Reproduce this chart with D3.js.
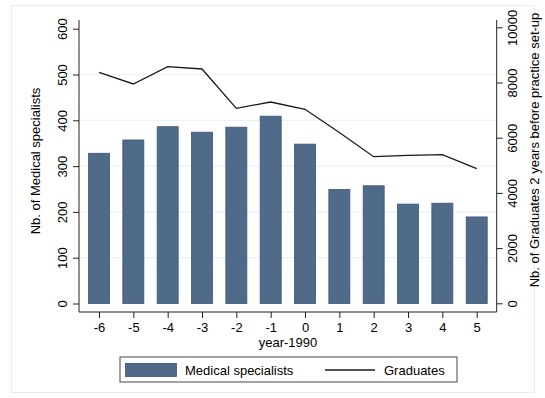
<!DOCTYPE html>
<html>
<head>
<meta charset="utf-8">
<script src="https://cdn.jsdelivr.net/npm/d3@7"></script>
<style>
  html, body { margin: 0; padding: 0; background: #fff; }
  svg { display: block; font-family: "Liberation Sans", Arial, sans-serif; }
</style>
</head>
<body>
<svg id="chart" width="545" height="398"></svg>
<script>
const years = [-6, -5, -4, -3, -2, -1, 0, 1, 2, 3, 4, 5];
const specialists = [328, 357, 386, 374, 385, 409, 348, 249, 257, 217, 219, 189];
const graduates = [8370, 7946, 8572, 8489, 7065, 7293, 7029, 6188, 5312, 5362, 5384, 4877];
const leftTicks = [0, 100, 200, 300, 400, 500, 600];
const rightTicks = [0, 2000, 4000, 6000, 8000, 10000];

const svg = d3.select("#chart");
const frame = { left: 79, right: 496.7, top: 20, bottom: 312 };

svg.append("rect").attr("x", 11.5).attr("y", 5.5).attr("width", 523).attr("height", 387)
  .attr("fill", "#fff").attr("stroke", "#ececec");

const x = d3.scalePoint().domain(years).range([99, 476.7]);
const yL = d3.scaleLinear().domain([0, 600]).range([303.5, 28.7]);
const yR = d3.scaleLinear().domain([0, 10000]).range([303.3, 27.3]);

// gridlines
svg.append("g").selectAll("line").data(leftTicks.filter(d => d > 0 && d < 600)).join("line")
  .attr("x1", frame.left).attr("x2", frame.right)
  .attr("y1", d => yL(d)).attr("y2", d => yL(d))
  .attr("stroke", "#eaf2f3").attr("stroke-width", 1.2);

// bars
const bw = 21;
svg.append("g").selectAll("rect").data(years).join("rect")
  .attr("x", (d) => x(d) - bw / 2)
  .attr("width", bw)
  .attr("y", (d, i) => yL(specialists[i]))
  .attr("height", (d, i) => yL(0) - yL(specialists[i]))
  .attr("fill", "#506a8a").attr("stroke", "#3a5679").attr("stroke-width", 0.8);

// line
const line = d3.line().x((d, i) => x(years[i])).y(d => yR(d));
svg.append("path").datum(graduates).attr("d", line)
  .attr("fill", "none").attr("stroke", "#1a1a1a").attr("stroke-width", 1.3);

// axis lines
const ax = svg.append("g").attr("stroke", "#222").attr("stroke-width", 1);
ax.append("line").attr("x1", frame.left).attr("x2", frame.left).attr("y1", frame.top).attr("y2", frame.bottom);
ax.append("line").attr("x1", frame.right).attr("x2", frame.right).attr("y1", frame.top).attr("y2", frame.bottom);
ax.append("line").attr("x1", frame.left).attr("x2", frame.right).attr("y1", frame.bottom).attr("y2", frame.bottom);

function styleAxis(g) {
  g.select(".domain").remove();
  g.selectAll(".tick line").attr("stroke", "#222");
  g.selectAll(".tick text").attr("fill", "#000").attr("font-size", 13)
    .attr("font-family", '"Liberation Sans", Arial, sans-serif');
}

// bottom axis
svg.append("g").attr("transform", `translate(0,${frame.bottom})`)
  .call(d3.axisBottom(x).tickSize(6).tickPadding(5).tickFormat(d => d < 0 ? "-" + Math.abs(d) : d))
  .call(styleAxis);

// left axis
const gl = svg.append("g").attr("transform", `translate(${frame.left},0)`)
  .call(d3.axisLeft(yL).tickValues(leftTicks).tickSize(6).tickFormat(d3.format("d")))
  .call(styleAxis);
gl.selectAll(".tick text").attr("x", null).attr("dy", null)
  .attr("text-anchor", "middle")
  .attr("transform", "translate(-11,0) rotate(-90)")
  .attr("dy", "-0.1em");

// right axis
const gr = svg.append("g").attr("transform", `translate(${frame.right},0)`)
  .call(d3.axisRight(yR).tickValues(rightTicks).tickSize(6).tickFormat(d3.format("d")))
  .call(styleAxis);
gr.selectAll(".tick text").attr("x", null).attr("dy", null)
  .attr("text-anchor", "middle")
  .attr("transform", "translate(19,0) rotate(-90)")
  .attr("dy", "0.1em");

// axis titles
const tf = '"Liberation Sans", Arial, sans-serif';
svg.append("text").attr("x", 288).attr("y", 347).attr("text-anchor", "middle")
  .attr("font-size", 13).attr("font-family", tf).text("year-1990");
svg.append("text").attr("transform", "translate(40,161) rotate(-90)").attr("text-anchor", "middle")
  .attr("font-size", 13).attr("font-family", tf).text("Nb. of Medical specialists");
svg.append("text").attr("transform", "translate(539,150) rotate(-90)").attr("text-anchor", "middle")
  .attr("font-size", 13).attr("font-family", tf).text("Nb. of Graduates 2 years before practice set-up");

// legend
const lg = svg.append("g");
lg.append("rect").attr("x", 120).attr("y", 357).attr("width", 337).attr("height", 25)
  .attr("fill", "#fff").attr("stroke", "#333").attr("stroke-width", 0.9);
lg.append("rect").attr("x", 125.5).attr("y", 363.5).attr("width", 51).attr("height", 13)
  .attr("fill", "#506a8a").attr("stroke", "#3a5679").attr("stroke-width", 0.8);
lg.append("text").attr("x", 185).attr("y", 374.5).attr("font-size", 13).attr("font-family", tf)
  .text("Medical specialists");
lg.append("line").attr("x1", 325).attr("x2", 375).attr("y1", 370).attr("y2", 370)
  .attr("stroke", "#1a1a1a").attr("stroke-width", 1.3);
lg.append("text").attr("x", 384).attr("y", 374.5).attr("font-size", 13).attr("font-family", tf)
  .text("Graduates");
</script>
</body>
</html>
